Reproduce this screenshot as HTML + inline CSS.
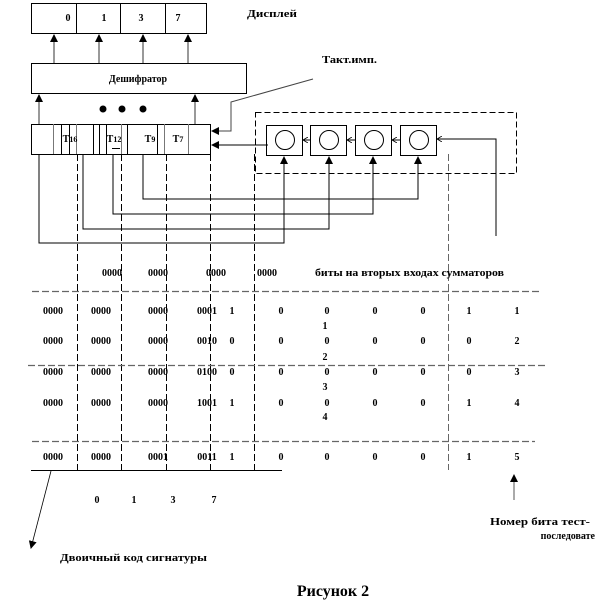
<!DOCTYPE html>
<html><head><meta charset="utf-8"><style>
html,body{margin:0;padding:0;background:#fff;width:607px;height:609px;overflow:hidden}
text{font-family:"Liberation Serif",serif;font-weight:bold;font-size:10px;fill:#000}
</style></head><body>
<svg width="607" height="609" viewBox="0 0 607 609" xmlns="http://www.w3.org/2000/svg">
<defs>
<marker id="a" markerWidth="8" markerHeight="8" refX="7" refY="4" orient="auto" markerUnits="userSpaceOnUse"><path d="M0,0 L8,4 L0,8 Z" fill="#000"/></marker>
<marker id="s" markerWidth="5" markerHeight="6" refX="5" refY="3" orient="auto" markerUnits="userSpaceOnUse"><path d="M0,0 L5,3 L0,6" fill="none" stroke="#000" stroke-width="0.8"/></marker>
</defs>
<g fill="none" stroke="#000" stroke-width="1">
<rect x="31.5" y="3.5" width="175" height="30"/>
<line x1="76.5" y1="3" x2="76.5" y2="33"/><line x1="120.5" y1="3" x2="120.5" y2="33"/><line x1="165.5" y1="3" x2="165.5" y2="33"/>
<rect x="31.5" y="63.5" width="215" height="30"/>
<g stroke="#555" stroke-width="1.2">
<line x1="54" y1="63" x2="54" y2="35" marker-end="url(#a)"/>
<line x1="99" y1="63" x2="99" y2="35" marker-end="url(#a)"/>
<line x1="143" y1="63" x2="143" y2="35" marker-end="url(#a)"/>
<line x1="188" y1="63" x2="188" y2="35" marker-end="url(#a)"/>
<line x1="39" y1="124" x2="39" y2="95" marker-end="url(#a)"/>
<line x1="195" y1="124" x2="195" y2="95" marker-end="url(#a)"/>
</g>
<rect x="31.5" y="124.5" width="179" height="30"/>
<g stroke="#777"><line x1="53.5" y1="124" x2="53.5" y2="154"/><line x1="76.5" y1="124" x2="76.5" y2="154"/><line x1="121.5" y1="124" x2="121.5" y2="154"/><line x1="164.5" y1="124" x2="164.5" y2="154"/><line x1="188.5" y1="124" x2="188.5" y2="154"/></g>
<line x1="61.5" y1="124" x2="61.5" y2="154"/><line x1="69.5" y1="124" x2="69.5" y2="154"/><line x1="93.5" y1="124" x2="93.5" y2="154"/><line x1="99.5" y1="124" x2="99.5" y2="154"/><line x1="106.5" y1="124" x2="106.5" y2="154"/><line x1="127.5" y1="124" x2="127.5" y2="154"/><line x1="157.5" y1="124" x2="157.5" y2="154"/>
<line x1="112" y1="148.5" x2="120" y2="148.5"/>
<polyline stroke="#444" points="313,79 231,102 231,131 212,131" marker-end="url(#a)"/>
<line x1="268" y1="145" x2="212" y2="145" marker-end="url(#a)"/>
<rect x="255.5" y="112.5" width="261" height="61" stroke-dasharray="6,3"/>
<rect x="266.5" y="125.5" width="36" height="30"/><circle cx="285" cy="140" r="9.5"/>
<rect x="310.5" y="125.5" width="36" height="30"/><circle cx="329" cy="140" r="9.5"/>
<rect x="355.5" y="125.5" width="36" height="30"/><circle cx="374" cy="140" r="9.5"/>
<rect x="400.5" y="125.5" width="36" height="30"/><circle cx="419" cy="140" r="9.5"/>
<line x1="310" y1="140" x2="303" y2="140" marker-end="url(#s)"/>
<line x1="355" y1="140" x2="347" y2="140" marker-end="url(#s)"/>
<line x1="400" y1="140" x2="392" y2="140" marker-end="url(#s)"/>
<polyline points="496,236 496,139 437,139" marker-end="url(#s)"/>
<polyline points="39,154 39,243 284,243 284,157" marker-end="url(#a)"/>
<polyline points="83,154 83,229 329,229 329,157" marker-end="url(#a)"/>
<polyline points="113,154 113,214 373,214 373,157" marker-end="url(#a)"/>
<polyline points="143,154 143,199 418,199 418,157" marker-end="url(#a)"/>
<g stroke-dasharray="7,3">
<line x1="77.5" y1="154" x2="77.5" y2="470"/><line x1="121.5" y1="154" x2="121.5" y2="470"/><line x1="166.5" y1="154" x2="166.5" y2="470"/><line x1="210.5" y1="154" x2="210.5" y2="470"/><line x1="254.5" y1="154" x2="254.5" y2="470"/>
</g>
<line x1="448.5" y1="154" x2="448.5" y2="470" stroke="#666" stroke-dasharray="7,3"/>
<g stroke="#666" stroke-dasharray="7,3" stroke-width="1.2">
<line x1="32" y1="291.5" x2="542" y2="291.5"/>
<line x1="28" y1="365.5" x2="545" y2="365.5"/>
<line x1="32" y1="441.5" x2="535" y2="441.5"/>
</g>
<line x1="31" y1="470.5" x2="282" y2="470.5"/>
<line x1="51" y1="471" x2="31" y2="548" stroke-width="0.8" marker-end="url(#a)"/>
<line x1="514" y1="500" x2="514" y2="475" stroke="#555" marker-end="url(#a)"/>
</g>
<circle cx="103" cy="109" r="3.5" fill="#000"/><circle cx="122" cy="109" r="3.5" fill="#000"/><circle cx="143" cy="109" r="3.5" fill="#000"/>
<g text-anchor="middle">
<text x="68" y="21">0</text><text x="104" y="21">1</text><text x="141" y="21">3</text><text x="178" y="21">7</text>
<text x="138" y="82" font-size="11">Дешифратор</text>
<text x="70" y="142" font-size="11">T<tspan font-size="8">16</tspan></text>
<text x="114" y="142" font-size="11">T<tspan font-size="8">12</tspan></text>
<text x="150" y="142" font-size="11">T<tspan font-size="8">9</tspan></text>
<text x="178" y="142" font-size="11">T<tspan font-size="8">7</tspan></text>
<text x="112" y="276">0000</text><text x="158" y="276">0000</text><text x="216" y="276">0000</text><text x="267" y="276">0000</text>
</g>
<text x="247" y="17" textLength="50" lengthAdjust="spacingAndGlyphs">Дисплей</text>
<text x="322" y="63" textLength="55" lengthAdjust="spacingAndGlyphs">Такт.имп.</text>
<text x="315" y="276" textLength="189" lengthAdjust="spacingAndGlyphs">биты  на  вторых входах  сумматоров</text>
<g text-anchor="middle">
<text x="53" y="314">0000</text><text x="101" y="314">0000</text><text x="158" y="314">0000</text><text x="207" y="314">0001</text><text x="232" y="314">1</text><text x="281" y="314">0</text><text x="327" y="314">0</text><text x="375" y="314">0</text><text x="423" y="314">0</text><text x="469" y="314">1</text><text x="517" y="314">1</text>
<text x="325" y="329">1</text>
<text x="53" y="344">0000</text><text x="101" y="344">0000</text><text x="158" y="344">0000</text><text x="207" y="344">0010</text><text x="232" y="344">0</text><text x="281" y="344">0</text><text x="327" y="344">0</text><text x="375" y="344">0</text><text x="423" y="344">0</text><text x="469" y="344">0</text><text x="517" y="344">2</text>
<text x="325" y="360">2</text>
<text x="53" y="375">0000</text><text x="101" y="375">0000</text><text x="158" y="375">0000</text><text x="207" y="375">0100</text><text x="232" y="375">0</text><text x="281" y="375">0</text><text x="327" y="375">0</text><text x="375" y="375">0</text><text x="423" y="375">0</text><text x="469" y="375">0</text><text x="517" y="375">3</text>
<text x="325" y="390">3</text>
<text x="53" y="406">0000</text><text x="101" y="406">0000</text><text x="158" y="406">0000</text><text x="207" y="406">1001</text><text x="232" y="406">1</text><text x="281" y="406">0</text><text x="327" y="406">0</text><text x="375" y="406">0</text><text x="423" y="406">0</text><text x="469" y="406">1</text><text x="517" y="406">4</text>
<text x="325" y="420">4</text>
<text x="53" y="460">0000</text><text x="101" y="460">0000</text><text x="158" y="460">0001</text><text x="207" y="460">0011</text><text x="232" y="460">1</text><text x="281" y="460">0</text><text x="327" y="460">0</text><text x="375" y="460">0</text><text x="423" y="460">0</text><text x="469" y="460">1</text><text x="517" y="460">5</text>
<text x="97" y="503">0</text><text x="134" y="503">1</text><text x="173" y="503">3</text><text x="214" y="503">7</text>
</g>
<text x="60" y="561" textLength="147" lengthAdjust="spacingAndGlyphs">Двоичный код  сигнатуры</text>
<text x="490" y="525" textLength="100" lengthAdjust="spacingAndGlyphs">Номер бита тест-</text>
<text x="595" y="539" text-anchor="end">последовате</text>
<text x="333" y="596" text-anchor="middle" style="font-size:16px">Рисунок 2</text>
</svg>
</body></html>
